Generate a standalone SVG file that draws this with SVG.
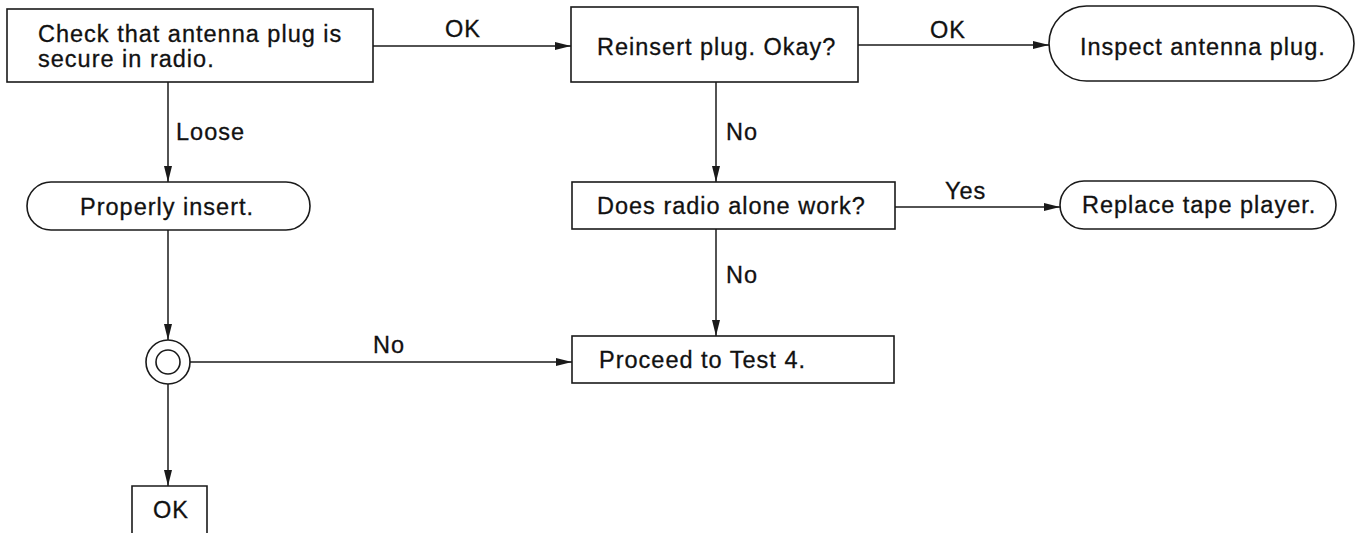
<svg xmlns="http://www.w3.org/2000/svg" width="1359" height="533" viewBox="0 0 1359 533">
<style>
.n{fill:#fff;stroke:#1a1a1a;stroke-width:1.6}
.c{fill:none;stroke:#1a1a1a;stroke-width:1.5}
text{font-family:"Liberation Sans",Arial,sans-serif;font-size:23.5px;fill:#111;stroke:#111;stroke-width:0.3;letter-spacing:1px}
</style>
<defs>
<marker id="ah" markerUnits="userSpaceOnUse" markerWidth="18" markerHeight="10" refX="16" refY="4.5" orient="auto">
<path d="M0,0.5 L16,4.5 L0,8.5 Z" fill="#1a1a1a"/>
</marker>
</defs>
<rect width="1359" height="533" fill="#fff"/>
<g id="connectors">
<path class="c" d="M373,46 H571" marker-end="url(#ah)"/>
<path class="c" d="M858,45 H1049" marker-end="url(#ah)"/>
<path class="c" d="M168,82 V182" marker-end="url(#ah)"/>
<path class="c" d="M716,82 V182" marker-end="url(#ah)"/>
<path class="c" d="M895,207 H1060" marker-end="url(#ah)"/>
<path class="c" d="M716,229 V336" marker-end="url(#ah)"/>
<path class="c" d="M168,230 V340" marker-end="url(#ah)"/>
<path class="c" d="M190,362 H572" marker-end="url(#ah)"/>
<path class="c" d="M168,384 V486" marker-end="url(#ah)"/>
<text x="445" y="37">OK</text>
<text x="930" y="38">OK</text>
<text x="176" y="140">Loose</text>
<text x="726" y="140">No</text>
<text x="945" y="199">Yes</text>
<text x="726" y="283">No</text>
<text x="373" y="353">No</text>
</g>
<g id="check">
<rect class="n" x="7" y="9" width="366" height="73"/>
<text x="38" y="42">Check that antenna plug is</text>
<text x="38" y="67">secure in radio.</text>
</g>
<g id="reinsert">
<rect class="n" x="571" y="7" width="287" height="75"/>
<text x="597" y="55">Reinsert plug. Okay?</text>
</g>
<g id="inspect">
<rect class="n" x="1049" y="6" width="305" height="75" rx="37.5"/>
<text x="1080" y="55">Inspect antenna plug.</text>
</g>
<g id="properly">
<rect class="n" x="27" y="182" width="283" height="48" rx="24"/>
<text x="80" y="215">Properly insert.</text>
</g>
<g id="radio">
<rect class="n" x="572" y="182" width="323" height="47"/>
<text x="597" y="214">Does radio alone work?</text>
</g>
<g id="replace">
<rect class="n" x="1060" y="181" width="276" height="48" rx="24"/>
<text x="1082" y="213">Replace tape player.</text>
</g>
<g id="proceed">
<rect class="n" x="572" y="336" width="322" height="47"/>
<text x="599" y="368">Proceed to Test 4.</text>
</g>
<g id="junction">
<circle class="n" cx="168" cy="362" r="22"/>
<circle class="n" cx="168" cy="362" r="12"/>
</g>
<g id="ok">
<path class="n" d="M132,540 V486 H207 V540"/>
<text x="153" y="518">OK</text>
</g>
</svg>
